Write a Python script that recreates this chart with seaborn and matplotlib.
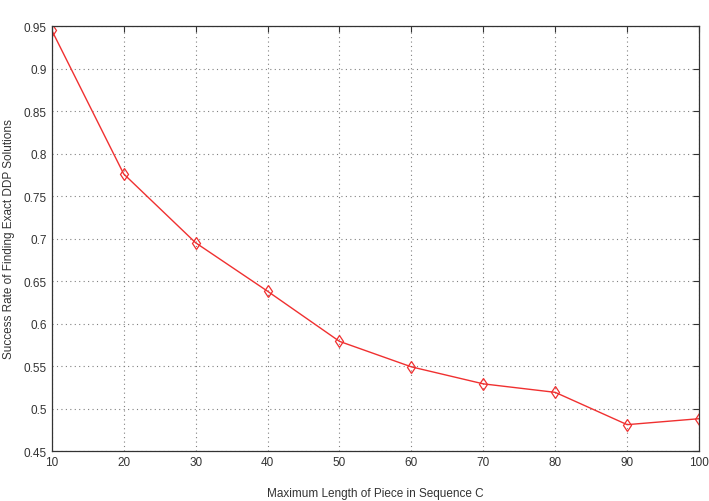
import matplotlib
matplotlib.use('Agg')
import matplotlib.pyplot as plt
import pandas as pd
import seaborn as sns

# 数据
max_length = [10, 20, 30, 40, 50, 60, 70, 80, 90, 100]
success_rate = [0.945, 0.776, 0.695, 0.638, 0.579, 0.549, 0.529, 0.519, 0.481, 0.488]
y_ticks = [0.45, 0.5, 0.55, 0.6, 0.65, 0.7, 0.75, 0.8, 0.85, 0.9, 0.95]
y_labels = ['0.45', '0.5', '0.55', '0.6', '0.65', '0.7', '0.75', '0.8', '0.85', '0.9', '0.95']

sns.set_style('white')
plt.rcParams['font.family'] = ['Liberation Sans', 'DejaVu Sans']
plt.rcParams['xtick.direction'] = 'in'
plt.rcParams['ytick.direction'] = 'in'

df = pd.DataFrame({'len': max_length, 'rate': success_rate})

fig = plt.figure(figsize=(7.09, 5.02), dpi=100)
ax = fig.add_axes([0.073, 0.0996, 0.913, 0.8466])

sns.lineplot(data=df, x='len', y='rate', ax=ax, color='#f03030', linewidth=1.0,
             marker='d', markersize=6, markerfacecolor='none',
             markeredgecolor='#f03030', markeredgewidth=0.9)

ax.set_xlim(10, 100)
ax.set_ylim(0.45, 0.95)
ax.set_xticks(max_length)
ax.set_yticks(y_ticks)
ax.set_yticklabels(y_labels)
ax.tick_params(labelsize=8.5, colors='#333333', length=4, width=0.8,
               top=True, right=True)
ax.grid(True, linestyle=(0, (1, 3)), color='#808080', linewidth=0.8)
for s in ax.spines.values():
    s.set_color('#333333')
    s.set_linewidth(0.9)

ax.set_xlabel('Maximum Length of Piece in Sequence C', fontsize=8.5, color='#333333', labelpad=14)
ax.set_ylabel('Success Rate of Finding Exact DDP Solutions', fontsize=8.5, color='#333333', labelpad=6)

fig.savefig('out.png', dpi=100)
